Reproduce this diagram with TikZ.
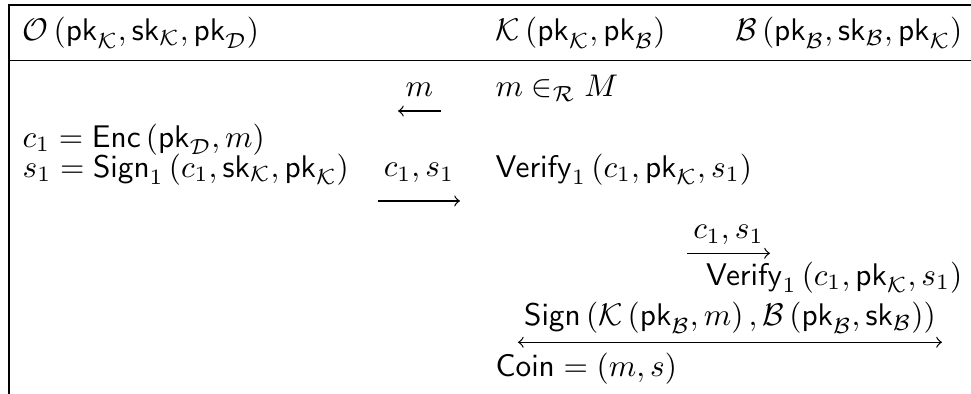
\documentclass[tikz,border=0pt]{standalone}
\usepackage{tikz}
\usetikzlibrary{arrows.meta,positioning}
\newcommand{\pkey}{\mathsf{pk}}
\newcommand{\skey}{\mathsf{sk}}

\begin{document}
\begin{tikzpicture}[
    cell/.style={inner sep=0pt, anchor=base west},
    msg/.style={-to, line width=0.4pt},
    lbl/.style={midway, inner sep=0pt}
  ]
    \useasboundingbox (0,0) rectangle (10.905,-4.425);
    % frame
    \draw[line width=0.4pt] (0.101,-4.425) -- (0.101,-0.056) -- (10.905,-0.056);
    \draw[line width=0.4pt] (0.101,-0.680) -- (10.905,-0.680);
    % header
    \node[cell] (ho) at (0.247,-0.460) {$\mathcal{O}\left(\pkey_{\mathcal{K}},\skey_{\mathcal{K}},\pkey_{\mathcal{D}}\right)$};
    \node[cell] (hk) at (5.559,-0.460) {$\mathcal{K}\left(\pkey_{\mathcal{K}},\pkey_{\mathcal{B}}\right)$};
    \node[cell, anchor=base east] (hb) at (10.815,-0.460) {$\mathcal{B}\left(\pkey_{\mathcal{B}},\skey_{\mathcal{B}},\pkey_{\mathcal{K}}\right)$};
    % rows
    \node[cell] (pick) at (5.559,-1.089) {$m\in_{\mathcal{R}}M$};
    \node[cell] (enc) at (0.247,-1.651) {$c_1=\mathsf{Enc}\left(\pkey_{\mathcal{D}},m\right)$};
    \node[cell] (sign) at (0.247,-1.988) {$s_1=\mathsf{Sign}_1\left(c_1,\skey_{\mathcal{K}},\pkey_{\mathcal{K}}\right)$};
    \node[cell] (vk) at (5.559,-1.988) {$\mathsf{Verify}_1\left(c_1,\pkey_{\mathcal{K}},s_1\right)$};
    \node[cell, anchor=base east] (vb) at (10.815,-3.201) {$\mathsf{Verify}_1\left(c_1,\pkey_{\mathcal{K}},s_1\right)$};
    \node[cell] (coin) at (5.559,-4.234) {$\mathsf{Coin}=\left(m,s\right)$};
    % messages
    \coordinate (m1a) at (4.952,-1.247);
    \coordinate (m1b) at (4.470,-1.247);
    \coordinate (m2a) at (4.245,-2.257);
    \coordinate (m2b) at (5.166,-2.257);
    \coordinate (m3a) at (7.715,-2.845);
    \coordinate (m3b) at (8.647,-2.845);
    \coordinate (m4a) at (5.817,-3.844);
    \coordinate (m4b) at (10.579,-3.844);
    \draw[msg] (m1a) -- (m1b) node[lbl, above=4.4pt] {$m$};
    \draw[msg] (m2a) -- (m2b) node[lbl, above=5.7pt] {$c_1,s_1$};
    \draw[msg] (m3a) -- (m3b) node[lbl, above=2.6pt] {$c_1,s_1$};
    \draw[to-to, line width=0.4pt] (m4a) -- (m4b) node[lbl, above=2.5pt] {$\mathsf{Sign}\left(\mathcal{K}\left(\pkey_{\mathcal{B}},m\right),\mathcal{B}\left(\pkey_{\mathcal{B}},\skey_{\mathcal{B}}\right)\right)$};
\end{tikzpicture}
\end{document}
